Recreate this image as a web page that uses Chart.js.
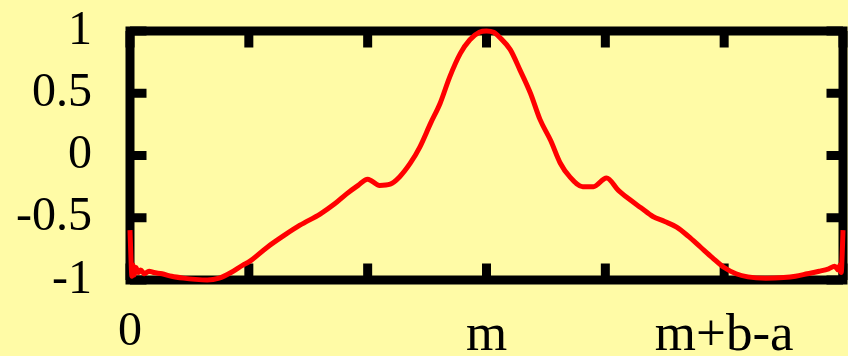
<!DOCTYPE html>
<html>
<head>
<meta charset="utf-8">
<script src="https://cdn.jsdelivr.net/npm/chart.js@4/dist/chart.umd.min.js"></script>
<style>
  html, body { margin: 0; padding: 0; background: #fffba6; }
  canvas { display: block; }
</style>
</head>
<body>
<canvas id="myChart" width="848" height="356"></canvas>
<script>
const xValues = [
  0, 0.008, 0.016, 0.025, 0.035, 0.05, 0.07, 0.09, 0.12, 0.16, 0.2, 0.27, 0.35, 0.45, 0.55,
  0.65, 0.75, 0.85, 0.95, 1.0, 1.15, 1.3, 1.43, 1.6, 1.72, 1.82, 1.92, 2.0, 2.1, 2.19,
  2.27, 2.36, 2.44, 2.53, 2.61, 2.69, 2.78, 2.86, 2.94, 3.0,
  3.06, 3.11, 3.2, 3.28, 3.37, 3.45, 3.54, 3.62, 3.7, 3.81, 3.9, 4.01, 4.11,
  4.2, 4.3, 4.4, 4.5, 4.6, 4.7, 4.8, 4.9, 5.0, 5.1, 5.2, 5.35, 5.5, 5.6, 5.7,
  5.8, 5.88, 5.93, 5.96, 5.975, 5.985, 5.993, 6.0
];
const yValues = [
  -0.6, -0.82, -0.97, -0.88, -0.96, -0.9, -0.94, -0.92, -0.95, -0.93, -0.94, -0.95, -0.97, -0.985, -0.995,
  -1.0, -0.985, -0.94, -0.88, -0.855, -0.74, -0.64, -0.56, -0.47, -0.39, -0.31, -0.24, -0.19, -0.24, -0.23,
  -0.17, -0.06, 0.07, 0.26, 0.42, 0.63, 0.82, 0.93, 0.99, 1.0,
  0.99, 0.95, 0.85, 0.69, 0.5, 0.29, 0.12, -0.06, -0.17, -0.25, -0.25, -0.18, -0.28,
  -0.35, -0.42, -0.49, -0.53, -0.575, -0.65, -0.735, -0.82, -0.9, -0.95, -0.975, -0.985, -0.98, -0.97, -0.95,
  -0.93, -0.91, -0.89, -0.92, -0.88, -0.94, -0.8, -0.6
];
const xTicks = [0, 1, 2, 3, 4, 5, 6];
const xTickLabels = ['0', '', '', 'm', '', 'm+b-a', ''];
const yTicks = [-1, -0.5, 0, 0.5, 1];
const yTickLabels = ['-1', '-0.5', '0', '0.5', '1'];

const frameWidth = 9;
const tickLen = 12;

// black box round the plot with inward tick marks on all four sides
const framePlugin = {
  id: 'frame',
  beforeDatasetsDraw(chart) {
    const { ctx, chartArea: a, scales } = chart;
    ctx.save();
    ctx.strokeStyle = '#000';
    ctx.lineWidth = frameWidth;
    ctx.strokeRect(a.left, a.top, a.right - a.left, a.bottom - a.top);
    ctx.lineCap = 'butt';
    xTicks.forEach(v => {
      const px = scales.x.getPixelForValue(v);
      ctx.beginPath();
      ctx.moveTo(px, a.top); ctx.lineTo(px, a.top + frameWidth / 2 + tickLen);
      ctx.moveTo(px, a.bottom); ctx.lineTo(px, a.bottom - frameWidth / 2 - tickLen);
      ctx.stroke();
    });
    yTicks.forEach(v => {
      const py = scales.y.getPixelForValue(v);
      ctx.beginPath();
      ctx.moveTo(a.left, py); ctx.lineTo(a.left + frameWidth / 2 + tickLen, py);
      ctx.moveTo(a.right, py); ctx.lineTo(a.right - frameWidth / 2 - tickLen, py);
      ctx.stroke();
    });
    ctx.restore();
  }
};

// no extra room for label overhang, the layout padding sets the box
const noOverhang = s => {
  s.paddingTop = 0; s.paddingBottom = 0; s.paddingLeft = 0; s.paddingRight = 0;
};

const data = {
  datasets: [{
    data: xValues.map((x, i) => ({ x: x, y: yValues[i] })),
    borderColor: '#ff0000',
    borderWidth: 5,
    pointRadius: 0,
    cubicInterpolationMode: 'monotone',
    clip: false
  }]
};

const config = {
  type: 'line',
  data: data,
  options: {
    responsive: false,
    animation: false,
    layout: { padding: { top: 31, right: 5, left: 0, bottom: 0 } },
    plugins: { legend: { display: false }, tooltip: { enabled: false } },
    scales: {
      x: {
        type: 'linear',
        min: 0,
        max: 6,
        afterBuildTicks: s => { s.ticks = xTicks.map(v => ({ value: v })); },
        afterFit: s => { s.height = 76; noOverhang(s); },
        border: { display: false },
        grid: { display: false, drawTicks: false },
        ticks: {
          color: '#000',
          padding: 24,
          maxRotation: 0,
          autoSkip: false,
          font: c => ({ family: 'Liberation Serif', size: (c.tick && c.tick.value === 0) ? 48 : 53 }),
          callback: v => xTickLabels[xTicks.indexOf(v)]
        }
      },
      y: {
        min: -1,
        max: 1,
        afterBuildTicks: s => { s.ticks = yTicks.map(v => ({ value: v })); },
        afterFit: s => { s.width = 130; noOverhang(s); },
        border: { display: false },
        grid: { display: false, drawTicks: false },
        ticks: {
          color: '#000',
          padding: 38,
          autoSkip: false,
          font: { family: 'Liberation Serif', size: 48 },
          callback: v => yTickLabels[yTicks.indexOf(v)]
        }
      }
    }
  },
  plugins: [framePlugin]
};

const myChart = new Chart(
  document.getElementById('myChart'),
  config
);
</script>
</body>
</html>
